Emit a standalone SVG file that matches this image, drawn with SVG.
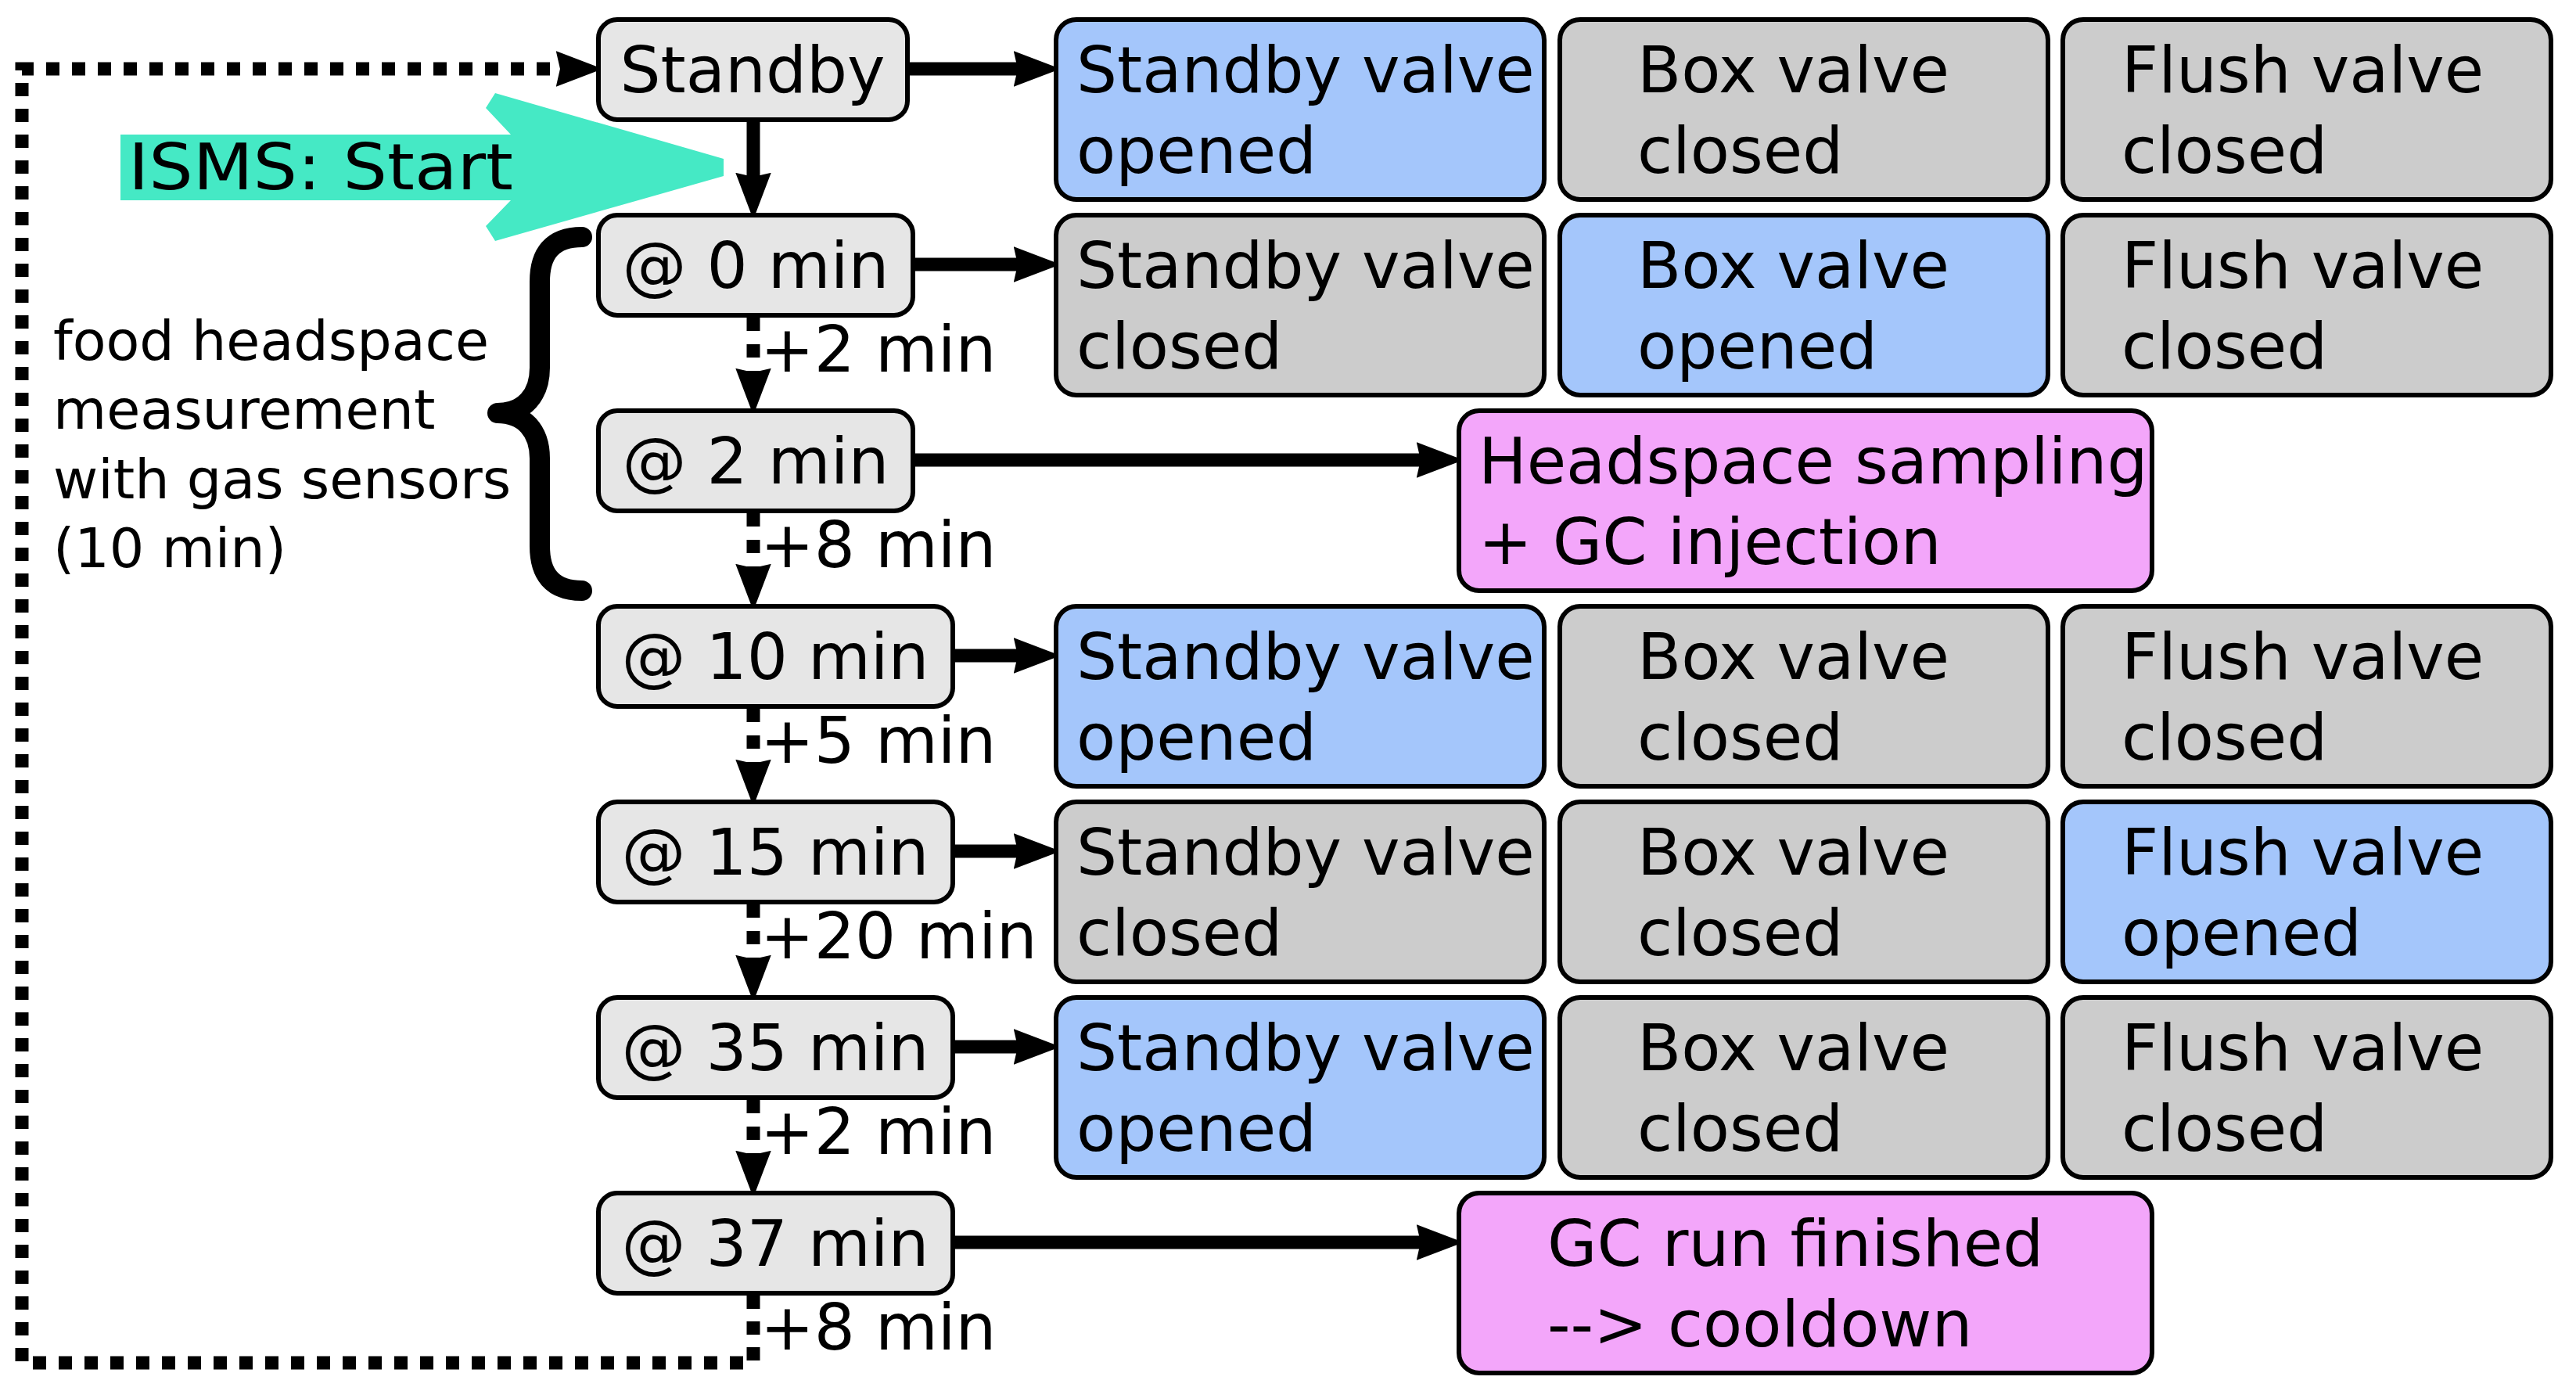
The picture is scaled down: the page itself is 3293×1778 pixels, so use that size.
<svg xmlns="http://www.w3.org/2000/svg" width="3293" height="1778" viewBox="0 0 3293 1778">
<style>
text{font-family:"DejaVu Sans","Liberation Sans",sans-serif;font-size:82px;fill:#000}
.node{fill:#e6e6e6;stroke:#000;stroke-width:6}
.grey{fill:#cccccc;stroke:#000;stroke-width:6}
.blue{fill:#a4c6fb;stroke:#000;stroke-width:6}
.pink{fill:#f3a6fa;stroke:#000;stroke-width:6}
.lbl{text-anchor:middle}
.con{fill:none;stroke:#000;stroke-width:17}
.dash{stroke-dasharray:17 17}
.small{font-size:70px}
</style>
<defs>
<marker id="ah" markerUnits="userSpaceOnUse" markerWidth="60" markerHeight="46" viewBox="0 0 58 44" refX="6" refY="22" orient="auto">
<path d="M0,0 L58,22 L0,44 L5,22 Z" fill="#000"/>
</marker>
</defs>

<g id="isms-start">
<polygon points="154,172 653,172 621,138 633,119 925,203 925,225 633,308 621,289 653,256 154,256" fill="#45e9c5"/>
<text x="164" y="242" textLength="492" lengthAdjust="spacingAndGlyphs">ISMS: Start</text>
</g>

<g id="brace">
<path d="M744,303 C705,303 690,325 690,360 L690,470 C690,505 670,528 636,528 C670,528 690,551 690,586 L690,698 C690,733 705,755 744,755" fill="none" stroke="#000" stroke-width="26" stroke-linecap="round" stroke-linejoin="round"/>
<text class="small" x="68" y="460">food headspace</text>
<text class="small" x="68" y="548">measurement</text>
<text class="small" x="68" y="637">with gas sensors</text>
<text class="small" x="68" y="725">(10 min)</text>
</g>

<g id="connectors">
<path class="con" d="M1160,88 H1302" marker-end="url(#ah)"/>
<path class="con" d="M1167,338 H1302" marker-end="url(#ah)"/>
<path class="con" d="M1167,588 H1817" marker-end="url(#ah)"/>
<path class="con" d="M1218,838 H1302" marker-end="url(#ah)"/>
<path class="con" d="M1218,1088 H1302" marker-end="url(#ah)"/>
<path class="con" d="M1218,1338 H1302" marker-end="url(#ah)"/>
<path class="con" d="M1218,1588 H1817" marker-end="url(#ah)"/>
<path class="con" d="M963,156 V227" marker-end="url(#ah)"/>
<path class="con dash" d="M963,406 V477" marker-end="url(#ah)"/>
<path class="con dash" d="M963,656 V727" marker-end="url(#ah)"/>
<path class="con dash" d="M963,906 V977" marker-end="url(#ah)"/>
<path class="con dash" d="M963,1156 V1227" marker-end="url(#ah)"/>
<path class="con dash" d="M963,1406 V1477" marker-end="url(#ah)"/>
<path class="con" style="stroke-dasharray:17 16" d="M963,1656 V1742 H28 V88 H717" marker-end="url(#ah)"/>
<text x="972" y="475">+2 min</text>
<text x="972" y="725">+8 min</text>
<text x="972" y="975">+5 min</text>
<text x="972" y="1225">+20 min</text>
<text x="972" y="1475">+2 min</text>
<text x="972" y="1725">+8 min</text>
</g>

<g id="n-standby"><rect class="node" x="765" y="25" width="395" height="128" rx="24"/><text class="lbl" x="962" y="118">Standby</text></g>
<g id="n-0min"><rect class="node" x="765" y="275" width="402" height="128" rx="24"/><text class="lbl" x="966" y="368">@ 0 min</text></g>
<g id="n-2min"><rect class="node" x="765" y="525" width="402" height="128" rx="24"/><text class="lbl" x="966" y="618">@ 2 min</text></g>
<g id="n-10min"><rect class="node" x="765" y="775" width="453" height="128" rx="24"/><text class="lbl" x="991" y="868">@ 10 min</text></g>
<g id="n-15min"><rect class="node" x="765" y="1025" width="453" height="128" rx="24"/><text class="lbl" x="991" y="1118">@ 15 min</text></g>
<g id="n-35min"><rect class="node" x="765" y="1275" width="453" height="128" rx="24"/><text class="lbl" x="991" y="1368">@ 35 min</text></g>
<g id="n-37min"><rect class="node" x="765" y="1525" width="453" height="128" rx="24"/><text class="lbl" x="991" y="1618">@ 37 min</text></g>

<g id="r0-standby"><rect class="blue" x="1350" y="25" width="624" height="230" rx="26"/><text x="1376" y="118">Standby valve</text><text x="1376" y="221">opened</text></g>
<g id="r0-box"><rect class="grey" x="1994" y="25" width="624" height="230" rx="26"/><text x="2093" y="118">Box valve</text><text x="2093" y="221">closed</text></g>
<g id="r0-flush"><rect class="grey" x="2637" y="25" width="624" height="230" rx="26"/><text x="2712" y="118">Flush valve</text><text x="2712" y="221">closed</text></g>

<g id="r1-standby"><rect class="grey" x="1350" y="275" width="624" height="230" rx="26"/><text x="1376" y="368">Standby valve</text><text x="1376" y="471">closed</text></g>
<g id="r1-box"><rect class="blue" x="1994" y="275" width="624" height="230" rx="26"/><text x="2093" y="368">Box valve</text><text x="2093" y="471">opened</text></g>
<g id="r1-flush"><rect class="grey" x="2637" y="275" width="624" height="230" rx="26"/><text x="2712" y="368">Flush valve</text><text x="2712" y="471">closed</text></g>

<g id="r2-headspace"><rect class="pink" x="1865" y="525" width="886" height="230" rx="26"/><text x="1890" y="618">Headspace sampling</text><text x="1890" y="721">+ GC injection</text></g>

<g id="r3-standby"><rect class="blue" x="1350" y="775" width="624" height="230" rx="26"/><text x="1376" y="868">Standby valve</text><text x="1376" y="971">opened</text></g>
<g id="r3-box"><rect class="grey" x="1994" y="775" width="624" height="230" rx="26"/><text x="2093" y="868">Box valve</text><text x="2093" y="971">closed</text></g>
<g id="r3-flush"><rect class="grey" x="2637" y="775" width="624" height="230" rx="26"/><text x="2712" y="868">Flush valve</text><text x="2712" y="971">closed</text></g>

<g id="r4-standby"><rect class="grey" x="1350" y="1025" width="624" height="230" rx="26"/><text x="1376" y="1118">Standby valve</text><text x="1376" y="1221">closed</text></g>
<g id="r4-box"><rect class="grey" x="1994" y="1025" width="624" height="230" rx="26"/><text x="2093" y="1118">Box valve</text><text x="2093" y="1221">closed</text></g>
<g id="r4-flush"><rect class="blue" x="2637" y="1025" width="624" height="230" rx="26"/><text x="2712" y="1118">Flush valve</text><text x="2712" y="1221">opened</text></g>

<g id="r5-standby"><rect class="blue" x="1350" y="1275" width="624" height="230" rx="26"/><text x="1376" y="1368">Standby valve</text><text x="1376" y="1471">opened</text></g>
<g id="r5-box"><rect class="grey" x="1994" y="1275" width="624" height="230" rx="26"/><text x="2093" y="1368">Box valve</text><text x="2093" y="1471">closed</text></g>
<g id="r5-flush"><rect class="grey" x="2637" y="1275" width="624" height="230" rx="26"/><text x="2712" y="1368">Flush valve</text><text x="2712" y="1471">closed</text></g>

<g id="r6-gc"><rect class="pink" x="1865" y="1525" width="886" height="230" rx="26"/><text x="1978" y="1618">GC run finished</text><text x="1978" y="1721">--&gt; cooldown</text></g>
</svg>
